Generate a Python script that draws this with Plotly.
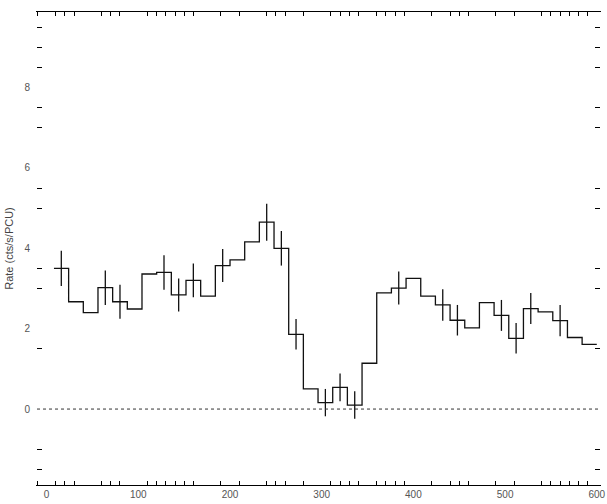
import plotly.graph_objects as go

# ---- data ----
bin_width = 16
bin_centers = [16 + 16 * k for k in range(37)]
rate = [3.50, 2.67, 2.40, 3.02, 2.67, 2.49, 3.36, 3.40, 2.84, 3.20,
        2.81, 3.57, 3.71, 4.16, 4.65, 4.00, 1.86, 0.50, 0.16, 0.54,
        0.10, 1.14, 2.89, 3.01, 3.25, 2.81, 2.59, 2.21, 2.02, 2.65,
        2.33, 1.76, 2.50, 2.42, 2.20, 1.78, 1.61]
rate_err = [0.44, None, None, 0.43, 0.42, None, None, 0.43, 0.41, 0.42,
            None, 0.41, None, None, 0.46, 0.43, 0.38, None, 0.34, 0.345,
            0.34, None, None, 0.41, None, None, 0.39, 0.38, None, None,
            0.385, 0.38, 0.385, None, 0.39, None, None]

x_label_vals = [0, 100, 200, 300, 400, 500, 600]
x_label_text = ["0", "100", "200", "300", "400", "500", "600"]
x_major_ticks = [200, 500]
x_minor_ticks = [-10, 10, 20, 30, 60, 70, 80, 110, 120, 130, 140, 150, 160, 190,
                 210, 240, 250, 260, 280, 310, 320, 330, 340, 360, 370, 380, 390,
                 420, 440, 450, 460, 490, 510, 540, 550, 560, 570, 580, 590]
y_label_vals = [0, 2, 4, 6, 8]
y_label_text = ["0", "2", "4", "6", "8"]
y_major_ticks = [0, 2, 4]
y_minor_ticks = [-1.5, -1.0, 1.5, 3.0, 3.5, 5.0, 5.5, 7.0, 7.5, 8.5, 9.0, 9.5]
y_title = "Rate (cts/s/PCU)"

X_RANGE = [-10.5, 603.5]
Y_RANGE = [-1.89, 9.88]

# ---- build histogram step line from bins ----
step_x = [c - bin_width / 2 for c in bin_centers] + [bin_centers[-1] + bin_width / 2]
step_y = rate + [rate[-1]]

ex = [c for c, e in zip(bin_centers, rate_err) if e is not None]
ey = [r for r, e in zip(rate, rate_err) if e is not None]
ee = [e for e in rate_err if e is not None]

INK = "#111111"
CLEAR = "rgba(0,0,0,0)"
fig = go.Figure()
fig.add_trace(go.Scatter(x=step_x, y=step_y, mode="lines", line_shape="hv",
                         line=dict(color=INK, width=1.3), hoverinfo="skip",
                         showlegend=False))
fig.add_trace(go.Scatter(x=ex, y=ey, mode="markers",
                         marker=dict(size=1, color=CLEAR),
                         error_y=dict(type="data", array=ee, visible=True,
                                      width=0, thickness=1.3, color=INK),
                         showlegend=False, hoverinfo="skip"))

# zero reference line
fig.add_shape(type="line", xref="paper", x0=0, x1=1, yref="y", y0=0, y1=0,
              line=dict(color="#333333", width=1, dash="dot"))

tickfont = dict(family="Liberation Sans, Arial, sans-serif", size=10, color="#555555")

fig.update_layout(
    width=607, height=504,
    margin=dict(l=37, r=7, t=12, b=19, pad=0, autoexpand=False),
    paper_bgcolor="white", plot_bgcolor="white",
    showlegend=False,
    xaxis=dict(range=X_RANGE, showgrid=False, zeroline=False, automargin=False,
               showline=True, linecolor="black", linewidth=1, mirror="ticks",
               tickmode="array", tickvals=x_label_vals, ticktext=x_label_text,
               ticks="", tickfont=tickfont,
               minor=dict(tickmode="array", tickvals=x_minor_ticks, ticks="inside",
                          ticklen=4, tickwidth=1, tickcolor="black", showgrid=False)),
    xaxis2=dict(range=X_RANGE, overlaying="x", anchor="y", side="bottom",
                automargin=False,
                showgrid=False, zeroline=False, showline=True, linecolor=CLEAR,
                mirror="ticks",
                tickmode="array", tickvals=x_major_ticks, ticks="inside",
                ticklen=9, tickwidth=1, tickcolor="black", showticklabels=False),
    yaxis=dict(range=Y_RANGE, showgrid=False, zeroline=False, automargin=False,
               showline=True, linecolor=CLEAR, mirror="ticks",
               tickmode="array", tickvals=y_label_vals, ticktext=y_label_text,
               ticks="", tickfont=tickfont, ticklabelstandoff=4,
               title=dict(text=y_title, standoff=8,
                          font=dict(family="Liberation Sans, Arial, sans-serif",
                                    size=11, color="#444444")),
               minor=dict(tickmode="array", tickvals=y_minor_ticks, ticks="inside",
                          ticklen=5, tickwidth=1, tickcolor="black", showgrid=False)),
    yaxis2=dict(range=Y_RANGE, overlaying="y", anchor="x", side="left",
                automargin=False,
                showgrid=False, zeroline=False, showline=True, linecolor=CLEAR,
                mirror="ticks",
                tickmode="array", tickvals=y_major_ticks, ticks="inside",
                ticklen=10, tickwidth=1, tickcolor="black", showticklabels=False),
)

fig.write_html("out.html",
               config={"displayModeBar": False, "staticPlot": True},
               post_script="document.body.style.margin='0';document.body.style.padding='0';")
